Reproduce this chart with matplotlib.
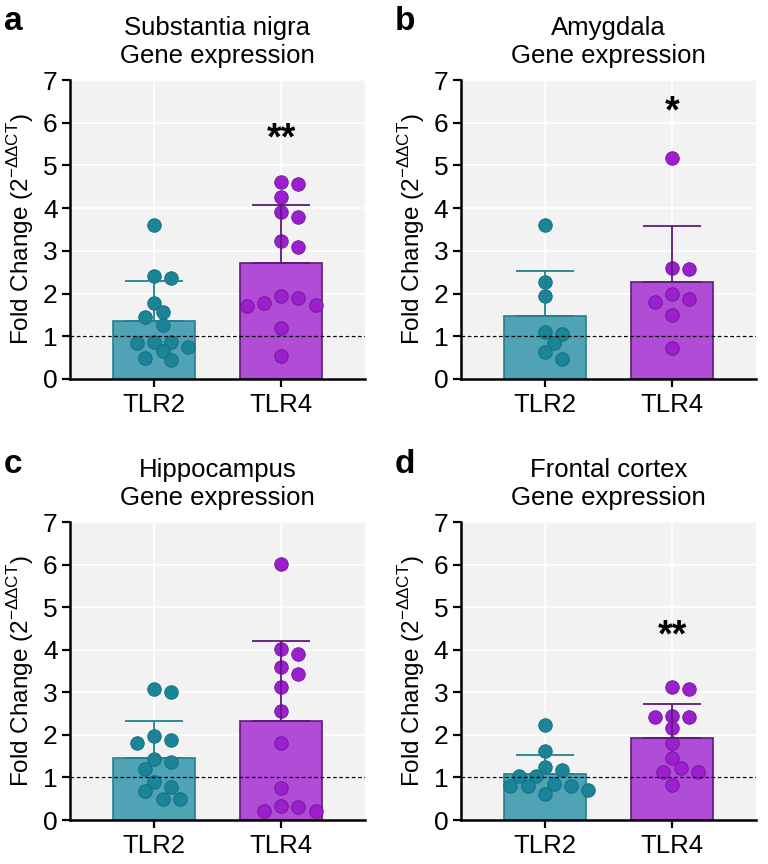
import numpy as np
import matplotlib.pyplot as plt

plt.rcParams['font.family'] = ['Liberation Sans', 'DejaVu Sans']
plt.rcParams['mathtext.fontset'] = 'custom'
plt.rcParams['mathtext.rm'] = 'Liberation Sans'

groups = ['TLR2', 'TLR4']
letters = ['a', 'b', 'c', 'd']
regions = ['Substantia nigra', 'Amygdala', 'Hippocampus', 'Frontal cortex']

# bar heights (mean) and upper error bars (SD)
means = [[1.36, 2.72], [1.48, 2.26], [1.45, 2.32], [1.07, 1.92]]
sds = [[0.93, 1.35], [1.06, 1.33], [0.88, 1.89], [0.46, 0.80]]
stars = [[None, '**'], [None, '*'], [None, None], [None, '**']]
star_y = [5.6, 6.25, None, 4.3]

# individual samples
sn_tlr2 = [3.60, 2.37, 2.41, 1.78, 1.58, 1.44, 1.26, 0.86, 0.84, 0.86, 0.74, 0.65, 0.44, 0.48]
sn_tlr4 = [4.56, 4.62, 4.26, 3.79, 3.92, 3.10, 3.24, 1.77, 1.95, 1.71, 1.90, 1.73, 1.20, 0.55]
am_tlr2 = [3.60, 2.26, 1.95, 1.10, 1.06, 0.84, 0.63, 0.47]
am_tlr4 = [5.17, 2.57, 2.60, 2.00, 1.87, 1.81, 1.50, 0.73]
hc_tlr2 = [3.00, 3.08, 1.87, 1.82, 1.97, 1.36, 1.43, 1.19, 0.90, 0.78, 0.67, 0.49, 0.50]
hc_tlr4 = [6.02, 3.90, 4.02, 3.44, 3.60, 3.12, 2.55, 1.82, 0.75, 0.34, 0.20, 0.22, 0.30]
fc_tlr2 = [2.23, 1.61, 1.25, 1.03, 1.04, 1.17, 0.85, 0.79, 0.81, 0.79, 0.71, 0.62]
fc_tlr4 = [3.08, 3.13, 2.42, 2.42, 2.45, 2.15, 1.80, 1.45, 1.22, 1.13, 1.12, 0.82]
points = [[sn_tlr2, sn_tlr4], [am_tlr2, am_tlr4], [hc_tlr2, hc_tlr4], [fc_tlr2, fc_tlr4]]

bar_fill = ['#4fa3b5', '#b04cd6']
bar_edge = ['#22808f', '#5e1a78']
dot_fill = ['#1a8499', '#9b1fcf']
dot_edge = ['#0f6a7c', '#6d1495']

W, H = 768, 864
# axes boxes in pixels: left, top, right, bottom
boxes = [(70, 80, 365, 379), (461, 80, 756, 379), (70, 522, 365, 820), (461, 522, 756, 820)]

dot_px = 11.5


def swarm(vals, xpx_per_unit, ypx_per_unit, step_px):
    # simple beeswarm: place points in order, pick smallest free offset
    order = np.argsort(vals)[::-1]
    placed = []
    offs = np.zeros(len(vals))
    cands = [0.0]
    for k in range(1, 8):
        cands += [k * step_px / 2, -k * step_px / 2]
    for i in order:
        yp = vals[i] * ypx_per_unit
        for c in cands:
            if all((c - px) ** 2 + (yp - py) ** 2 >= (dot_px * 1.05) ** 2 for px, py in placed):
                offs[i] = c
                placed.append((c, yp))
                break
    return offs / xpx_per_unit


fig = plt.figure(figsize=(W / 100, H / 100), dpi=100)
for p in range(4):
    l, t, r, b = boxes[p]
    ax = fig.add_axes([l / W, 1 - b / H, (r - l) / W, (b - t) / H])
    ax.set_facecolor('#f2f2f2')
    ax.set_xlim(-0.66, 1.66)
    ax.set_ylim(0, 7)
    ax.grid(True, color='white', linewidth=1.2, zorder=0)
    ax.set_axisbelow(True)
    xppu = (r - l) / 2.32
    yppu = (b - t) / 7.0
    for g in range(2):
        ax.bar(g, means[p][g], width=0.65, color=bar_fill[g], edgecolor=bar_edge[g],
               linewidth=1.2, zorder=2)
        vals = np.array(points[p][g])
        offs = swarm(vals, xppu, yppu, dot_px * 1.5)
        ax.scatter(g + offs, vals, s=95, color=dot_fill[g], edgecolor=dot_edge[g],
                   linewidth=0.6, zorder=3)
        ax.errorbar(g, means[p][g], yerr=[[0], [sds[p][g]]], fmt='none',
                    ecolor=bar_edge[g], elinewidth=1.3, capsize=21, capthick=1.3, zorder=4)
        if stars[p][g]:
            ax.text(g, star_y[p], stars[p][g], ha='center', va='center',
                    fontsize=27, fontweight='bold')
    ax.axhline(1, color='black', linestyle=(0, (3, 2)), linewidth=0.9, zorder=5)
    ax.set_xticks([0, 1])
    ax.set_xticklabels(groups, fontsize=18.5)
    ax.set_yticks(range(8))
    ax.tick_params(axis='y', labelsize=19, length=6, width=1.6, pad=3)
    ax.tick_params(axis='x', length=6, width=1.6, pad=4)
    for s in ['top', 'right']:
        ax.spines[s].set_visible(False)
    for s in ['left', 'bottom']:
        ax.spines[s].set_linewidth(1.8)
    ax.set_ylabel('Fold Change (2$^{\\mathregular{-ΔΔCT}}$)', fontsize=17.5, labelpad=5)
    ax.set_title(regions[p] + '\nGene expression', fontsize=18.5, pad=12, linespacing=1.25)
    fig.text((l - 66) / W, 1 - (t - 58) / H, letters[p], fontsize=24, fontweight='bold',
             ha='left', va='center')

fig.savefig('out.png', dpi=100)
